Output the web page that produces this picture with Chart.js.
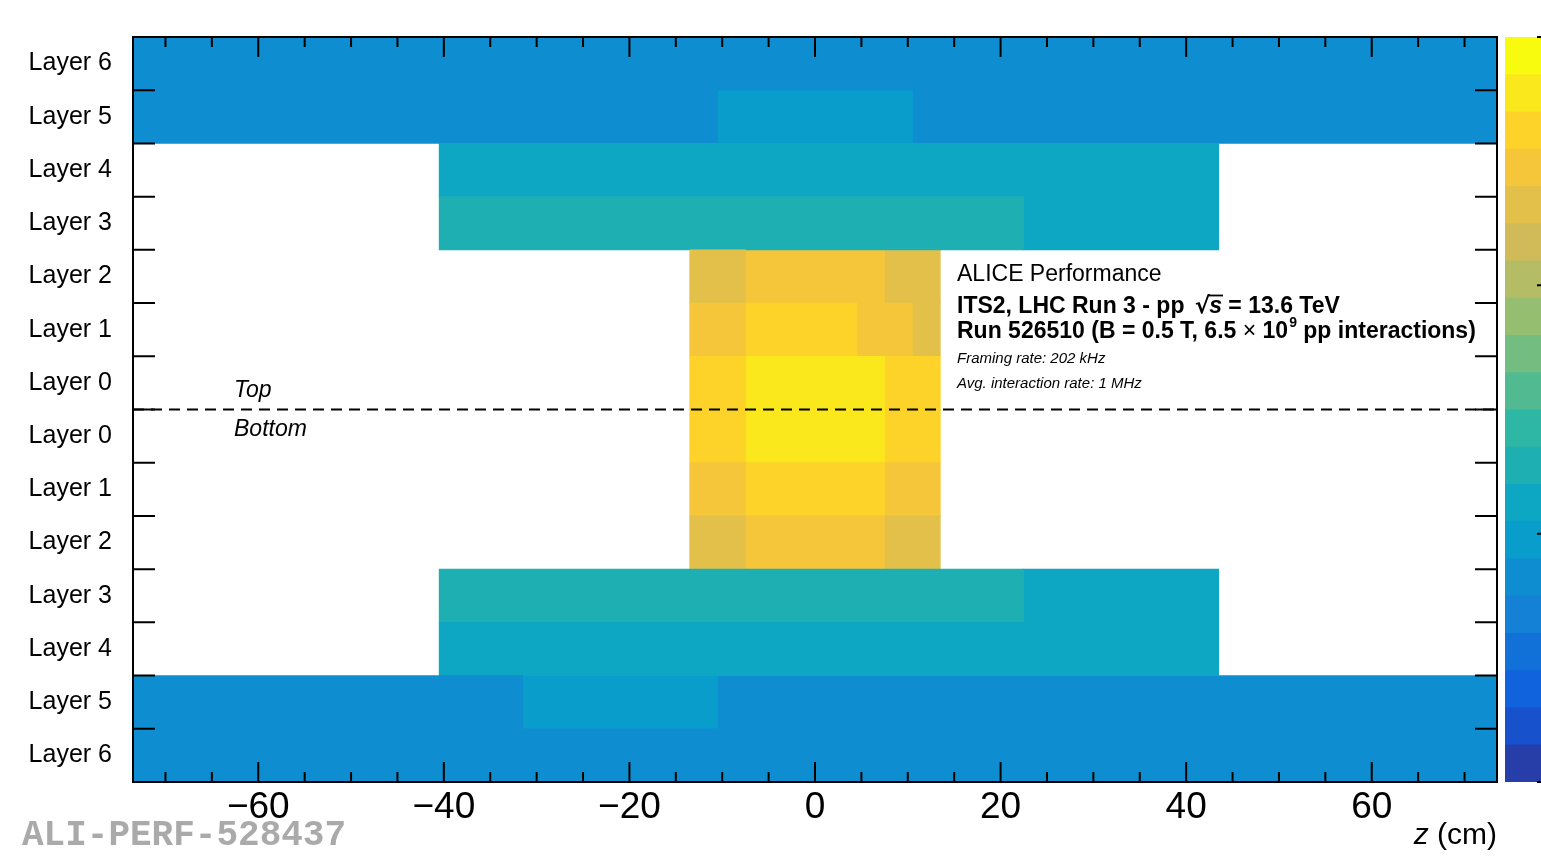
<!DOCTYPE html>
<html><head><meta charset="utf-8">
<script src="https://cdn.jsdelivr.net/npm/chart.js@4.4.1/dist/chart.umd.min.js"></script>
<style>
html,body{margin:0;padding:0;background:#fff;overflow:hidden;width:1541px;height:860px;}
#wrap{position:relative;width:1541px;height:860px;overflow:hidden;background:#fff;}
#main{position:absolute;left:0;top:0;}
#cbar{position:absolute;left:1505px;top:0;}
</style></head><body>
<div id="wrap">
<canvas id="main" width="1541" height="860"></canvas>
<canvas id="cbar" width="41" height="860"></canvas>
</div>
<script>
// ---------------- data ----------------
const layerLabels = ['Layer 6','Layer 5','Layer 4','Layer 3','Layer 2','Layer 1','Layer 0',
                     'Layer 0','Layer 1','Layer 2','Layer 3','Layer 4','Layer 5','Layer 6'];
const zEdges = [-73.5, -40.5, -31.5, -13.5, -10.5, -7.5, 4.5, 7.5, 10.5, 13.5, 22.5, 43.5, 73.5];
const zRange = [-73.5, 73.5];
const xTickValues = [-60, -40, -20, 0, 20, 40, 60];
const xMinorStep = 5;
// values as a fraction of the colour-scale range, one per z bin (null = no entries)
const topL6 = [0.275,0.275,0.275,0.275,0.275,0.275,0.275,0.275,0.275,0.275,0.275,0.275];
const topL5 = [0.275,0.275,0.275,0.275,0.325,0.325,0.325,0.325,0.275,0.275,0.275,0.275];
const topL4 = [null,0.375,0.375,0.375,0.375,0.375,0.375,0.375,0.375,0.375,0.375,null];
const topL3 = [null,0.425,0.425,0.425,0.425,0.425,0.425,0.425,0.425,0.425,0.375,null];
const topL2 = [null,null,null,0.775,0.775,0.825,0.825,0.775,0.775,null,null,null];
const topL1 = [null,null,null,0.825,0.825,0.875,0.825,0.825,0.775,null,null,null];
const topL0 = [null,null,null,0.875,0.875,0.925,0.925,0.875,0.875,null,null,null];
const botL0 = [null,null,null,0.875,0.875,0.925,0.925,0.875,0.875,null,null,null];
const botL1 = [null,null,null,0.825,0.825,0.875,0.875,0.825,0.825,null,null,null];
const botL2 = [null,null,null,0.775,0.775,0.825,0.825,0.775,0.775,null,null,null];
const botL3 = [null,0.425,0.425,0.425,0.425,0.425,0.425,0.425,0.425,0.425,0.375,null];
const botL4 = [null,0.375,0.375,0.375,0.375,0.375,0.375,0.375,0.375,0.375,0.375,null];
const botL5 = [0.275,0.275,0.325,0.325,0.275,0.275,0.275,0.275,0.275,0.275,0.275,0.275];
const botL6 = [0.275,0.275,0.275,0.275,0.275,0.275,0.275,0.275,0.275,0.275,0.275,0.275];
const colourBandCount = 20;
const colourBarTicks = [0, 1/3, 2/3, 1];

const rows = [topL6, topL5, topL4, topL3, topL2, topL1, topL0,
              botL0, botL1, botL2, botL3, botL4, botL5, botL6];

// ---------------- colour palette (ROOT kBird) ----------------
const birdStops = [0,0.125,0.25,0.375,0.5,0.625,0.75,0.875,1];
const birdR = [0.2082,0.0592,0.0780,0.0232,0.1802,0.5301,0.8186,0.9956,0.9764];
const birdG = [0.1664,0.3599,0.5041,0.6419,0.7178,0.7492,0.7328,0.7862,0.9832];
const birdB = [0.5293,0.8684,0.8385,0.7914,0.6425,0.4662,0.3499,0.1968,0.0539];
function bird(f){
  f = Math.max(0, Math.min(1, f));
  let i = 0;
  while (i < birdStops.length - 2 && f > birdStops[i+1]) i++;
  const t = (f - birdStops[i]) / (birdStops[i+1] - birdStops[i]);
  const c = a => Math.round(255 * (a[i] + t * (a[i+1] - a[i])));
  return `rgb(${c(birdR)},${c(birdG)},${c(birdB)})`;
}
function bandOf(v){ return Math.max(0, Math.min(colourBandCount - 1, Math.floor(v * colourBandCount))); }
function bandColour(i){
  const idx = Math.floor((i + 0.99) * 255 / colourBandCount);
  return bird(Math.min(idx, 254) / 254);
}
function valueColour(v){ return bandColour(bandOf(v)); }

const FONT = '"Liberation Sans", Arial, Helvetica, sans-serif';

// ---------------- main heat map ----------------
// merge neighbouring bins that fall into the same colour band (avoids seams)
const rowRuns = rows.map(r => {
  const runs = [];
  r.forEach((v, j) => {
    if (v == null) return;
    const last = runs[runs.length - 1];
    if (last && last.endBin === j - 1 && bandOf(last.v) === bandOf(v)) { last.endBin = j; }
    else runs.push({ startBin: j, endBin: j, v });
  });
  return runs;
});
const nRuns = Math.max(...rowRuns.map(r => r.length));
const datasets = [];
for (let k = 0; k < nRuns; k++){
  datasets.push({
    data: rowRuns.map(r => r[k] ? [zEdges[r[k].startBin], zEdges[r[k].endBin + 1]] : null),
    backgroundColor: rowRuns.map(r => r[k] ? valueColour(r[k].v) : 'rgba(0,0,0,0)'),
    borderWidth: 0,
    grouped: false,
    barPercentage: 1,
    categoryPercentage: 1,
    inflateAmount: 0.4
  });
}

const framePlugin = {
  id: 'frame',
  afterDatasetsDraw(chart){
    const {ctx, chartArea: a, scales: {x, y}} = chart;
    ctx.save();
    ctx.strokeStyle = '#000';
    // dashed top/bottom separator
    const ySep = (y.getPixelForValue(6) + y.getPixelForValue(7)) / 2;
    ctx.lineWidth = 2;
    ctx.setLineDash([11, 7]);
    ctx.beginPath(); ctx.moveTo(a.left, ySep); ctx.lineTo(a.right, ySep); ctx.stroke();
    ctx.setLineDash([]);
    // y ticks at row boundaries (left and right, inward)
    ctx.lineWidth = 2;
    ctx.beginPath();
    for (let i = 0; i < layerLabels.length - 1; i++){
      const yy = (y.getPixelForValue(i) + y.getPixelForValue(i+1)) / 2;
      ctx.moveTo(a.left, yy); ctx.lineTo(a.left + 22, yy);
      ctx.moveTo(a.right, yy); ctx.lineTo(a.right - 22, yy);
    }
    ctx.stroke();
    // x ticks (major and minor, top and bottom, inward)
    ctx.beginPath();
    for (let v = Math.ceil(zRange[0] / xMinorStep) * xMinorStep; v <= zRange[1]; v += xMinorStep){
      const xx = x.getPixelForValue(v);
      const len = xTickValues.includes(v) ? 20 : 10;
      ctx.moveTo(xx, a.bottom); ctx.lineTo(xx, a.bottom - len);
      ctx.moveTo(xx, a.top); ctx.lineTo(xx, a.top + len);
    }
    ctx.stroke();
    // frame
    ctx.lineWidth = 2;
    ctx.strokeRect(a.left, a.top, a.right - a.left, a.bottom - a.top);
    ctx.restore();
  },
  afterDraw(chart){
    const ctx = chart.ctx;
    ctx.save();
    ctx.fillStyle = '#000';
    ctx.strokeStyle = '#000';
    ctx.textAlign = 'left';
    ctx.textBaseline = 'alphabetic';
    // Top / Bottom
    ctx.font = 'italic 23px ' + FONT;
    ctx.fillText('Top', 234, 397);
    ctx.fillText('Bottom', 234, 436);
    // ALICE block
    const x0 = 957;
    ctx.font = '23px ' + FONT;
    ctx.fillText('ALICE Performance', x0, 281);
    // line 2
    const B = 'bold 23px ' + FONT;
    let cx = x0;
    ctx.font = B;
    let s = 'ITS2, LHC Run 3 - pp ';
    ctx.fillText(s, cx, 313); cx += ctx.measureText(s).width + 4;
    ctx.font = 'bold 23px "DejaVu Sans", ' + FONT;
    ctx.fillText('\u221A', cx, 313);
    const rw = ctx.measureText('\u221A').width;
    const rootStart = cx + rw - 2;
    cx += rw - 1;
    ctx.font = 'bold italic 23px ' + FONT;
    ctx.fillText('s', cx, 313);
    const sw = ctx.measureText('s').width;
    ctx.lineWidth = 1.8;
    ctx.beginPath(); ctx.moveTo(rootStart, 295.5); ctx.lineTo(cx + sw + 1, 295.5); ctx.stroke();
    cx += sw;
    ctx.font = B;
    ctx.fillText(' = 13.6 TeV', cx, 313);
    // line 3
    cx = x0;
    s = 'Run 526510 (B = 0.5 T, 6.5 ';
    ctx.font = B; ctx.fillText(s, cx, 338); cx += ctx.measureText(s).width;
    ctx.font = '23px ' + FONT; ctx.fillText('\u00D7', cx, 338); cx += ctx.measureText('\u00D7').width;
    s = ' 10';
    ctx.font = B; ctx.fillText(s, cx, 338); cx += ctx.measureText(s).width;
    ctx.font = 'bold 14px ' + FONT; ctx.fillText('9', cx + 1, 327); cx += ctx.measureText('9').width + 1;
    s = ' pp interactions)';
    ctx.font = B; ctx.fillText(s, cx, 338);
    // italic info
    ctx.font = 'italic 15px ' + FONT;
    ctx.fillText('Framing rate: 202 kHz', x0, 363);
    ctx.fillText('Avg. interaction rate: 1 MHz', x0, 388);
    // axis title z (cm)
    const right = chart.chartArea.right;
    ctx.font = '30px ' + FONT;
    const cm = ' (cm)';
    const cmw = ctx.measureText(cm).width;
    ctx.fillText(cm, right - cmw, 844);
    ctx.font = 'italic 30px ' + FONT;
    const zw = ctx.measureText('z').width;
    ctx.fillText('z', right - cmw - zw, 844);
    // ALI-PERF label
    ctx.font = 'bold 36px "Liberation Mono", "Courier New", monospace';
    ctx.fillStyle = '#aaaaaa';
    ctx.fillText('ALI-PERF-528437', 22, 845);
    ctx.restore();
  }
};

new Chart(document.getElementById('main'), {
  type: 'bar',
  data: { labels: layerLabels, datasets },
  options: {
    indexAxis: 'y',
    responsive: false,
    devicePixelRatio: 1,
    animation: false,
    events: [],
    layout: { padding: { left: 0, top: 37, right: 44, bottom: 0 } },
    plugins: { legend: { display: false }, tooltip: { enabled: false } },
    scales: {
      x: {
        type: 'linear', min: zRange[0], max: zRange[1],
        afterBuildTicks(sc){ sc.ticks = xTickValues.map(v => ({ value: v })); },
        afterFit(sc){ sc.height = 78; },
        grid: { display: false, drawTicks: false },
        border: { display: false },
        ticks: {
          autoSkip: false, maxRotation: 0, padding: 4, color: '#000',
          font: { family: FONT, size: 37 },
          callback: v => v < 0 ? '\u2212' + Math.abs(v) : String(v)
        }
      },
      y: {
        type: 'category', offset: true,
        afterFit(sc){ sc.width = 133; },
        grid: { display: false, drawTicks: false },
        border: { display: false },
        ticks: { autoSkip: false, padding: 21, color: '#000', font: { family: FONT, size: 25 } }
      }
    }
  },
  plugins: [framePlugin]
});

// ---------------- colour bar ----------------
const cbDatasets = [];
for (let i = 0; i < colourBandCount; i++){
  cbDatasets.push({
    data: [[0, (i + 1) / colourBandCount]],
    backgroundColor: bandColour(i),
    borderWidth: 0, grouped: false, barPercentage: 1, categoryPercentage: 1, inflateAmount: 0
  });
}
const cbTickPlugin = {
  id: 'cbticks',
  afterDatasetsDraw(chart){
    const {ctx, chartArea: a, scales: {y}} = chart;
    ctx.save();
    ctx.strokeStyle = '#000'; ctx.lineWidth = 2;
    ctx.beginPath();
    colourBarTicks.forEach(v => {
      const yy = y.getPixelForValue(v);
      ctx.moveTo(a.right, yy); ctx.lineTo(a.right - 9, yy);
    });
    ctx.stroke();
    ctx.restore();
  }
};
new Chart(document.getElementById('cbar'), {
  type: 'bar',
  data: { labels: [''], datasets: cbDatasets },
  options: {
    responsive: false, devicePixelRatio: 1, animation: false, events: [],
    layout: { padding: { left: 0, right: 0, top: 37, bottom: 78 } },
    plugins: { legend: { display: false }, tooltip: { enabled: false } },
    scales: {
      x: { display: false, offset: true },
      y: { display: false, min: 0, max: 1 }
    }
  },
  plugins: [cbTickPlugin]
});
</script>
</body></html>
